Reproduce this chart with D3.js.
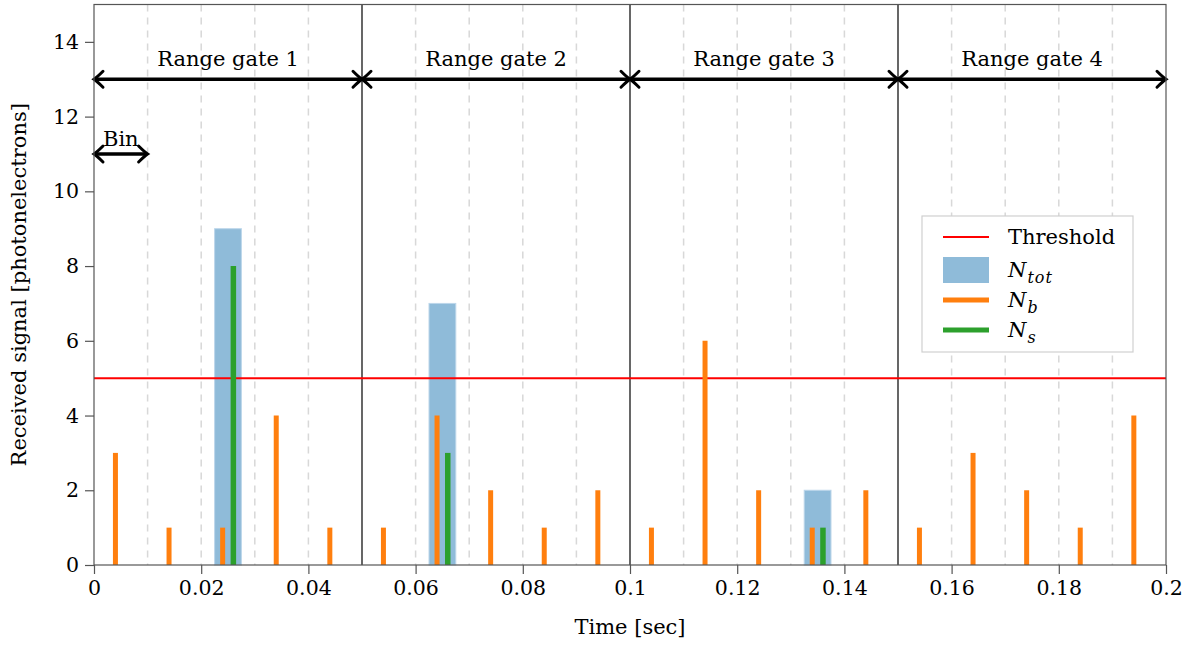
<!DOCTYPE html>
<html>
<head>
<meta charset="utf-8">
<script src="https://cdn.jsdelivr.net/npm/d3@7"></script>
<style>
  body { margin: 0; background: #fff; }
  text { font-family: "DejaVu Serif", serif; fill: #000; }
</style>
</head>
<body>
<div id="chart"></div>
<script>
"use strict";
// background counts per bin (bin centre offset 0.004)
var binStarts = [0, 0.01, 0.02, 0.03, 0.04, 0.05, 0.06, 0.07, 0.08, 0.09,
                 0.1, 0.11, 0.12, 0.13, 0.14, 0.15, 0.16, 0.17, 0.18, 0.19];
var nb = [3, 1, 1, 4, 1, 1, 4, 2, 1, 2, 1, 6, 2, 1, 2, 1, 3, 2, 1, 4];
var nbTimes = binStarts.map(function (b) { return b + 0.004; });
var nsTimes = [0.026, 0.066, 0.136];
var ns = [8, 3, 1];
var ntotCentres = [0.025, 0.065, 0.135];
var ntot = [9, 7, 2];
var threshold = 5;
var gates = [[0, 0.05, "Range gate 1"], [0.05, 0.1, "Range gate 2"], [0.1, 0.15, "Range gate 3"], [0.15, 0.2, "Range gate 4"]];
var xTicks = [0, 0.02, 0.04, 0.06, 0.08, 0.1, 0.12, 0.14, 0.16, 0.18, 0.2];
var yTicks = [0, 2, 4, 6, 8, 10, 12, 14];

var width = 1186, height = 646;
var margin = { left: 94, right: 20, top: 4.5, bottom: 81 };

var svg = d3.select("#chart").append("svg")
    .attr("width", width)
    .attr("height", height);

var x = d3.scaleLinear().domain([0, 0.2]).range([margin.left, width - margin.right]);
var y = d3.scaleLinear().domain([0, 15]).range([height - margin.bottom, margin.top]);

// grid: dashed every bin, solid at gate borders
var gridVals = d3.range(1, 20).map(function (i) { return i / 100; });
svg.append("g").selectAll("line")
    .data(gridVals.filter(function (v, i) { return (i + 1) % 5 !== 0; }))
    .enter().append("line")
    .attr("x1", function (d) { return x(d); })
    .attr("x2", function (d) { return x(d); })
    .attr("y1", y(15))
    .attr("y2", y(0))
    .style("stroke", "#d8d8d8")
    .style("stroke-width", 1.5)
    .style("stroke-dasharray", "7,6");
svg.append("g").selectAll("line")
    .data([0.05, 0.1, 0.15])
    .enter().append("line")
    .attr("x1", function (d) { return x(d); })
    .attr("x2", function (d) { return x(d); })
    .attr("y1", y(15))
    .attr("y2", y(0))
    .style("stroke", "#000")
    .style("stroke-width", 1.2);

// N_tot bars
svg.append("g").selectAll("rect")
    .data(ntotCentres)
    .enter().append("rect")
    .attr("x", function (d) { return x(d - 0.0025); })
    .attr("width", function (d) { return x(d + 0.0025) - x(d - 0.0025); })
    .attr("y", function (d, i) { return y(ntot[i]); })
    .attr("height", function (d, i) { return y(0) - y(ntot[i]); })
    .style("fill", "#8fbbd9")
    .style("stroke", "#bcd6ea")
    .style("stroke-width", 1);

// threshold
svg.append("line")
    .attr("x1", x(0)).attr("x2", x(0.2))
    .attr("y1", y(threshold)).attr("y2", y(threshold))
    .style("stroke", "#ff0000")
    .style("stroke-width", 2);

// N_b
svg.append("g").selectAll("line")
    .data(nbTimes)
    .enter().append("line")
    .attr("x1", function (d) { return x(d); })
    .attr("x2", function (d) { return x(d); })
    .attr("y1", y(0))
    .attr("y2", function (d, i) { return y(nb[i]); })
    .style("stroke", "#ff7f0e")
    .style("stroke-width", 5);

// N_s
svg.append("g").selectAll("line")
    .data(nsTimes)
    .enter().append("line")
    .attr("x1", function (d) { return x(d); })
    .attr("x2", function (d) { return x(d); })
    .attr("y1", y(0))
    .attr("y2", function (d, i) { return y(ns[i]); })
    .style("stroke", "#2ca02c")
    .style("stroke-width", 5.5);

// double arrows
function arrowHead(px, py, dir) {
    return "M" + (px + dir * 9) + "," + (py - 8) +
        " Q" + (px + dir * 3) + "," + (py - 2) + " " + px + "," + py +
        " Q" + (px + dir * 3) + "," + (py + 2) + " " + (px + dir * 9) + "," + (py + 8);
}
function doubleArrow(g, x0, x1, yv) {
    g.append("line")
        .attr("x1", x(x0) + 1).attr("x2", x(x1) - 1)
        .attr("y1", y(yv)).attr("y2", y(yv))
        .style("stroke", "#000").style("stroke-width", 3.4);
    g.append("path").attr("d", arrowHead(x(x0), y(yv), 1))
        .style("fill", "none").style("stroke", "#000").style("stroke-width", 3)
        .style("stroke-linecap", "round");
    g.append("path").attr("d", arrowHead(x(x1), y(yv), -1))
        .style("fill", "none").style("stroke", "#000").style("stroke-width", 3)
        .style("stroke-linecap", "round");
}
var arrows = svg.append("g");
gates.forEach(function (gt) {
    doubleArrow(arrows, gt[0], gt[1], 13);
    arrows.append("text")
        .attr("x", x((gt[0] + gt[1]) / 2))
        .attr("y", y(13.55))
        .attr("text-anchor", "middle")
        .attr("dominant-baseline", "central")
        .style("font-size", "21px")
        .text(gt[2]);
});
doubleArrow(arrows, 0, 0.01, 11);
arrows.append("text")
    .attr("x", x(0.005))
    .attr("y", y(11.2))
    .attr("text-anchor", "middle")
    .style("font-size", "21px")
    .text("Bin");

// axes
var xAxis = svg.append("g")
    .attr("transform", "translate(0," + y(0) + ")")
    .call(d3.axisBottom(x).tickValues(xTicks).tickSize(9).tickPadding(6)
        .tickFormat(function (d) { return d3.format("~g")(d); }));
var yAxis = svg.append("g")
    .attr("transform", "translate(" + x(0) + ",0)")
    .call(d3.axisLeft(y).tickValues(yTicks).tickSize(9).tickPadding(6));
[xAxis, yAxis].forEach(function (a) {
    a.select(".domain").remove();
    a.selectAll(".tick line").style("stroke", "#555").style("stroke-width", 1.2);
    a.selectAll(".tick text").style("font-size", "20.5px").style("font-family", "DejaVu Serif, serif").style("fill", "#000");
});

// frame
svg.append("rect")
    .attr("x", x(0)).attr("y", y(15))
    .attr("width", x(0.2) - x(0)).attr("height", y(0) - y(15))
    .style("fill", "none")
    .style("stroke", "#555")
    .style("stroke-width", 1.2);

// axis titles
svg.append("text")
    .attr("x", (x(0) + x(0.2)) / 2)
    .attr("y", 634)
    .attr("text-anchor", "middle")
    .style("font-size", "21px")
    .text("Time [sec]");
svg.append("text")
    .attr("transform", "translate(26," + y(7.5) + ") rotate(-90)")
    .attr("text-anchor", "middle")
    .style("font-size", "21px")
    .text("Received signal [photonelectrons]");

// legend
var legend = svg.append("g").attr("transform", "translate(922,216)");
legend.append("rect")
    .attr("width", 211).attr("height", 136)
    .style("fill", "#fff")
    .style("stroke", "#d0d0d0")
    .style("stroke-width", 1.2);
var rowsY = [21, 54, 84, 114];
legend.append("line")
    .attr("x1", 21).attr("x2", 67).attr("y1", rowsY[0]).attr("y2", rowsY[0])
    .style("stroke", "#ff0000").style("stroke-width", 2);
legend.append("rect")
    .attr("x", 21).attr("y", rowsY[1] - 13).attr("width", 46).attr("height", 26)
    .style("fill", "#8fbbd9");
legend.append("line")
    .attr("x1", 21).attr("x2", 67).attr("y1", rowsY[2]).attr("y2", rowsY[2])
    .style("stroke", "#ff7f0e").style("stroke-width", 5);
legend.append("line")
    .attr("x1", 21).attr("x2", 67).attr("y1", rowsY[3]).attr("y2", rowsY[3])
    .style("stroke", "#2ca02c").style("stroke-width", 5);

legend.append("text")
    .attr("x", 86).attr("y", rowsY[0]).attr("dominant-baseline", "central")
    .style("font-size", "21px").text("Threshold");
var subs = ["tot", "b", "s"];
subs.forEach(function (s, i) {
    var t = legend.append("text")
        .attr("x", 86).attr("y", rowsY[i + 1] + 7)
        .style("font-size", "21px")
        .style("font-style", "italic");
    t.append("tspan").text("N");
    t.append("tspan").attr("dy", 6).attr("dx", 1).style("font-size", "16px")
        .style("letter-spacing", s === "tot" ? "1px" : "0px").text(s);
});
</script>
</body>
</html>
